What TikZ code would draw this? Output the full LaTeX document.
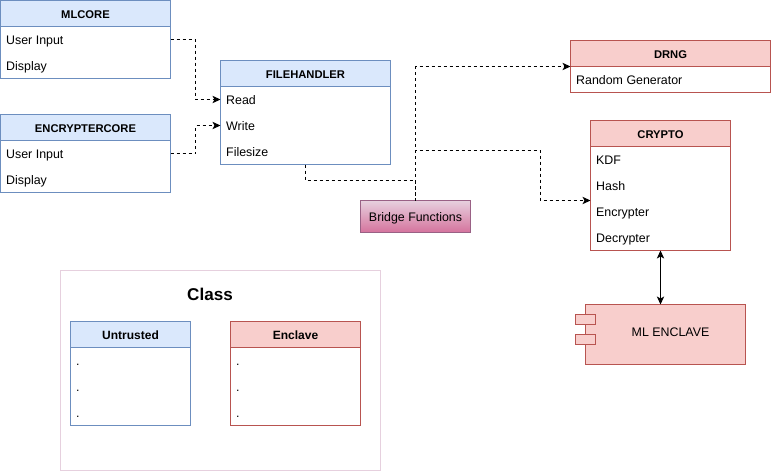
\documentclass[tikz,border=0pt]{standalone}
\usepackage{fontspec}
\setmainfont{Liberation Sans}
\usetikzlibrary{arrows.meta}

\definecolor{bluefill}{HTML}{DAE8FC}
\definecolor{blueline}{HTML}{6C8EBF}
\definecolor{redfill}{HTML}{F8CECC}
\definecolor{redline}{HTML}{B85450}
\definecolor{pinkline}{HTML}{996185}
\definecolor{pinktop}{HTML}{E6D0DE}
\definecolor{pinkbottom}{HTML}{D5739D}

\tikzset{
  block/.style 2 args={draw, fill=white, outer sep=0pt, inner sep=0pt, minimum width=#1*.75pt, minimum height=#2*.75pt},
  head/.style={draw, outer sep=0pt, inner sep=0pt, minimum height=26*.75pt, font=\bfseries\fontsize{9}{11}\selectfont, text height=7.4pt, text depth=0pt},
  caphead/.style={head, font=\bfseries\fontsize{8.4}{11}\selectfont},
  plaintext/.style={font=\fontsize{9.3}{11}\selectfont, text height=7.7pt, text depth=0pt},
  row/.style={plaintext, anchor=west, inner sep=0pt, xshift=-.6pt},
  blueside/.style={draw=blueline, fill=bluefill},
  redside/.style={draw=redline, fill=redfill},
  link/.style={dash pattern=on 2.25pt off 2.25pt, -{Stealth[length=6pt, width=5.5pt, inset=1.5pt]}},
  plainlink/.style={dash pattern=on 2.25pt off 2.25pt}
}

\begin{document}
\begin{tikzpicture}[x=.75pt, y=-.75pt, line width=.75pt]
  \useasboundingbox (0,0) rectangle (771,471);

  % legend
  \node (legend) [block={320}{200}, draw=pinktop] at (220.5,370.5) {};
  \node (legendtitle) [font=\bfseries\fontsize{12.8}{14}\selectfont] at (210,294.5) {Class};
  \node (untrusted) [block={120}{104}, draw=blueline] at (130.5,373.5) {};
  \node (untrustedhead) [head, blueside, minimum width=120*.75pt] at (130.5,334.5) {Untrusted};
  \node (u1) [row] at (76.5,360.5) {.};
  \node (u2) [row] at (76.5,386.5) {.};
  \node (u3) [row] at (76.5,412.5) {.};
  \node (enclave) [block={130}{104}, draw=redline] at (295.5,373.5) {};
  \node (enclavehead) [head, redside, minimum width=130*.75pt] at (295.5,334.5) {Enclave};
  \node (e1) [row] at (236.5,360.5) {.};
  \node (e2) [row] at (236.5,386.5) {.};
  \node (e3) [row] at (236.5,412.5) {.};

  % untrusted side
  \node (mlcore) [block={170}{78}, draw=blueline] at (85.5,39.5) {};
  \node (mlcorehead) [caphead, blueside, minimum width=170*.75pt] at (85.5,13.5) {MLCORE};
  \node (mlinput) [row] at (6.5,39.5) {User Input};
  \node (mldisplay) [row] at (6.5,65.5) {Display};

  \node (enccore) [block={170}{78}, draw=blueline] at (85.5,153.5) {};
  \node (enccorehead) [caphead, blueside, minimum width=170*.75pt] at (85.5,127.5) {ENCRYPTERCORE};
  \node (encinput) [row] at (6.5,153.5) {User Input};
  \node (encdisplay) [row] at (6.5,179.5) {Display};

  \node (filehandler) [block={170}{104}, draw=blueline] at (305.5,112.5) {};
  \node (filehead) [caphead, blueside, minimum width=170*.75pt] at (305.5,73.5) {FILEHANDLER};
  \node (read) [row] at (226.5,99.5) {Read};
  \node (write) [row] at (226.5,125.5) {Write};
  \node (filesize) [row] at (226.5,151.5) {Filesize};

  \node (bridge) [block={110}{32}, draw=pinkline, top color=pinktop, bottom color=pinkbottom, plaintext] at (415.5,216.5) {Bridge Functions};

  % enclave side
  \node (drng) [block={200}{52}, draw=redline] at (670.5,66.5) {};
  \node (drnghead) [caphead, redside, minimum width=200*.75pt] at (670.5,53.5) {DRNG};
  \node (random) [row] at (576.5,79.5) {Random Generator};

  \node (crypto) [block={140}{130}, draw=redline] at (660.5,185.5) {};
  \node (cryptohead) [caphead, redside, minimum width=140*.75pt] at (660.5,133.5) {CRYPTO};
  \node (kdf) [row] at (596.5,159.5) {KDF};
  \node (hash) [row] at (596.5,185.5) {Hash};
  \node (encrypter) [row] at (596.5,211.5) {Encrypter};
  \node (decrypter) [row] at (596.5,237.5) {Decrypter};

  \node (mlenclave) [block={160}{60}, redside] at (665.5,334.5) {};
  \node (port1) [block={20}{10}, redside] at (585.5,319.5) {};
  \node (port2) [block={20}{10}, redside] at (585.5,339.5) {};
  \node (mlenclavetext) [plaintext] at (670.5,331.5) {ML ENCLAVE};

  \coordinate (turna) at (195.5,99.5);
  \coordinate (turnb) at (195.5,125.5);
  \coordinate (join) at (415.5,180.5);
  \coordinate (turnc) at (540.5,150.5);
  \coordinate (turnd) at (540.5,200.5);

  \draw [link] (mlcore.east |- mlinput) -| (turna) -- (filehandler.west |- read);
  \draw [link] (enccore.east |- encinput) -| (turnb) -- (filehandler.west |- write);
  \draw [plainlink] (filehandler.south) |- (join) -- (bridge.north);
  \draw [link] (bridge.north) |- (drng.west);
  \draw [link] (bridge.north) |- (turnc) -- (turnd) -- (crypto.west |- turnd);
  \draw [{Stealth[length=6pt, width=5.5pt, inset=1.5pt]}-{Stealth[length=6pt, width=5.5pt, inset=1.5pt]}] (crypto.south) -- (crypto.south |- mlenclave.north);
\end{tikzpicture}
\end{document}
